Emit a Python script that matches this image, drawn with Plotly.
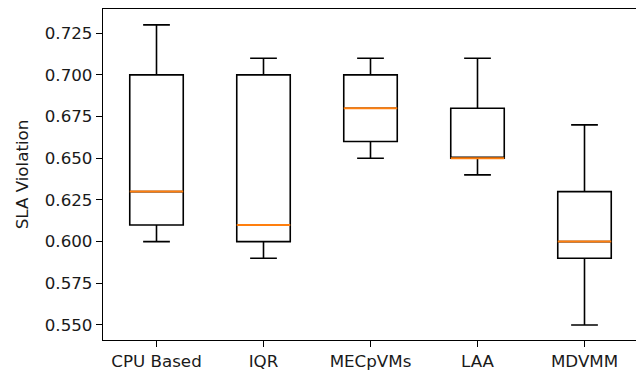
import plotly.graph_objects as go

categories = ["CPU Based", "IQR", "MECpVMs", "LAA", "MDVMM"]
lower_whisker = [0.60, 0.59, 0.65, 0.64, 0.55]
q1_values = [0.61, 0.60, 0.66, 0.65, 0.59]
median_values = [0.63, 0.61, 0.68, 0.65, 0.60]
q3_values = [0.70, 0.70, 0.70, 0.68, 0.63]
upper_whisker = [0.73, 0.71, 0.71, 0.71, 0.67]
y_ticks = [0.550, 0.575, 0.600, 0.625, 0.650, 0.675, 0.700, 0.725]

FONT = "DejaVu Sans"
fs = 16.7
TXT = "#1a1a1a"

fig = go.Figure()
fig.add_trace(go.Box(
    x=categories, q1=q1_values, median=median_values, q3=q3_values,
    lowerfence=lower_whisker, upperfence=upper_whisker,
    width=0.5, whiskerwidth=0.5,
    line=dict(color="black", width=1.6),
    fillcolor="rgba(0,0,0,0)", boxpoints=False, showlegend=False,
    hoverinfo="skip",
))
# orange median lines
fig.add_trace(go.Box(
    x=categories, q1=median_values, median=median_values, q3=median_values,
    lowerfence=median_values, upperfence=median_values,
    width=0.5, whiskerwidth=0,
    line=dict(color="#ff7f0e", width=2.0),
    fillcolor="rgba(0,0,0,0)", boxpoints=False, showlegend=False,
    hoverinfo="skip",
))

fig.update_layout(
    width=644, height=375,
    margin=dict(l=95, r=14, t=1, b=43),
    paper_bgcolor="white", plot_bgcolor="white",
    font=dict(family=FONT, size=fs, color=TXT),
    boxmode="overlay",
)
fig.update_xaxes(
    type="category", range=[-0.5, 4.5],
    showline=True, mirror=True, linecolor="black", linewidth=1.3,
    ticks="outside", ticklen=6, tickwidth=1.3, tickcolor="black",
    showgrid=False, zeroline=False,
    tickfont=dict(family=FONT, size=fs, color=TXT),
)
fig.update_yaxes(
    range=[0.541, 0.7395],
    tickvals=y_ticks, tickformat=".3f",
    showline=True, mirror=True, linecolor="black", linewidth=1.3,
    ticks="outside", ticklen=6, tickwidth=1.3, tickcolor="black",
    showgrid=False, zeroline=False,
    tickfont=dict(family=FONT, size=fs, color=TXT),
    title=dict(text="SLA Violation", font=dict(family=FONT, size=fs, color=TXT), standoff=11),
)

fig.write_html("out.html")
